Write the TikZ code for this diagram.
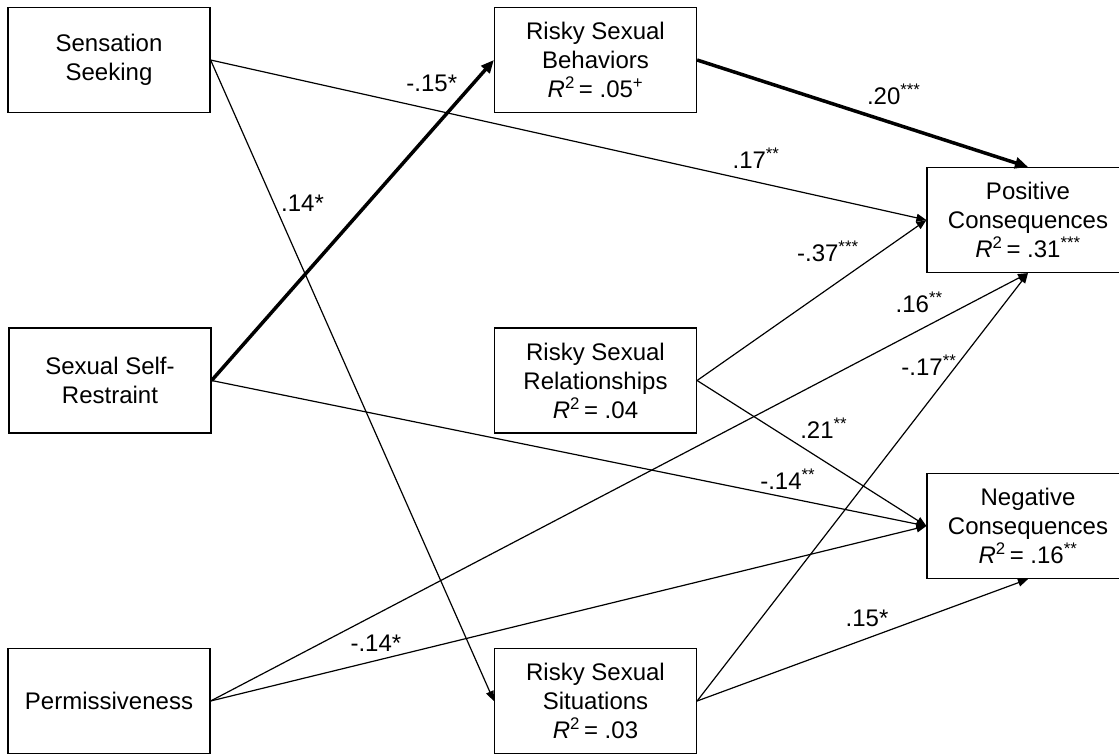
\documentclass[tikz,border=0pt]{standalone}
\usepackage{fontspec}
\setmainfont{Liberation Sans}
\usetikzlibrary{arrows.meta}

\begin{document}
\begin{tikzpicture}[x=1pt,y=-1pt,
   var/.style={draw,line width=1.2pt,minimum width=202pt,minimum height=105pt,
     inner sep=0pt,align=center,font=\fontsize{24}{29}\selectfont},
   effect/.style={line width=1.2pt,-{Triangle[length=10pt,width=8pt]}},
   strong/.style={line width=3.5pt,-{Triangle[length=13pt,width=11pt]}},
   coef/.style={inner sep=2pt,font=\fontsize{24}{29}\selectfont}]
\clip (0,0) rectangle (1119,753);
% predictors
\node[var] (ss) at (109,60) {Sensation\\Seeking};
\node[var] (sr) at (110,380.5) {Sexual Self-\\Restraint};
\node[var] (perm) at (109,701) {Permissiveness};
% mediators
\node[var] (rb) at (595.5,60) {Risky Sexual\\Behaviors\\\textit{R}\textsuperscript{2}\,= .05\textsuperscript{+}};
\node[var] (rr) at (595.5,380.5) {Risky Sexual\\Relationships\\\textit{R}\textsuperscript{2}\,= .04};
\node[var] (rs) at (595.5,701) {Risky Sexual\\Situations\\\textit{R}\textsuperscript{2}\,= .03};
% outcomes
\node[var] (pc) at (1028,220) {Positive\\Consequences\\\textit{R}\textsuperscript{2}\,= .31\textsuperscript{***}};
\node[var] (nc) at (1028,526) {Negative\\Consequences\\\textit{R}\textsuperscript{2}\,= .16\textsuperscript{**}};

\draw[strong] (sr.east) -- (rb.west)
   node[coef,pos=.89,anchor=south east,xshift=-2pt] (c-sr-rb) {-.15*};
\draw[effect] (ss.east) -- (rs.west)
   node[coef,pos=.24,anchor=south west] (c-ss-rs) {.14*};
\draw[effect] (ss.east) -- (pc.west)
   node[coef,pos=.72,above right=4pt] (c-ss-pc) {.17\textsuperscript{**}};
\draw[strong] (rb.east) -- (pc.north)
   node[coef,pos=.49,above right=4pt] (c-rb-pc) {.20\textsuperscript{***}};
\draw[effect] (rr.east) -- (pc.west)
   node[coef,pos=.72,above left=1pt] (c-rr-pc) {-.37\textsuperscript{***}};
\draw[effect] (perm.east) -- (pc.south)
   node[coef,pos=.9,above left=1pt] (c-perm-pc) {.16\textsuperscript{**}};
\draw[effect] (rs.east) -- (pc.south)
   node[coef,pos=.755,anchor=south east,xshift=12pt] (c-rs-pc) {-.17\textsuperscript{**}};
\draw[effect] (rr.east) -- (nc.west)
   node[coef,pos=.43,above right=2pt] (c-rr-nc) {.21\textsuperscript{**}};
\draw[effect] (sr.east) -- (nc.west)
   node[coef,pos=.764,anchor=south west] (c-sr-nc) {-.14\textsuperscript{**}};
\draw[effect] (perm.east) -- (nc.west)
   node[coef,pos=.27,anchor=south east] (c-perm-nc) {-.14*};
\draw[effect] (rs.east) -- (nc.south)
   node[coef,pos=.586,anchor=south east] (c-rs-nc) {.15*};
\end{tikzpicture}
\end{document}
